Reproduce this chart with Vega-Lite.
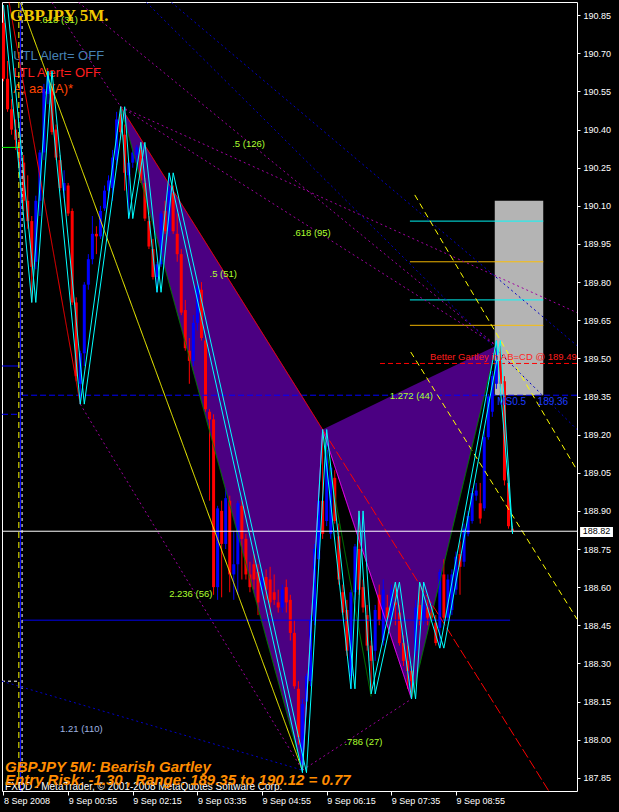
{
  "$schema": "https://vega.github.io/schema/vega-lite/v6.json",
  "width": 575,
  "height": 789,
  "autosize": "none",
  "padding": {"left": 2, "top": 2, "right": 42, "bottom": 21},
  "background": "black",
  "config": {
    "font": "Liberation Sans",
    "view": {"stroke": "#ffffff", "strokeWidth": 1},
    "axisX": {"labelAlign": "left", "labelDx": -2, "labelBaseline": "top", "labelPadding": 1,
      "labelColor": "#ffffff", "labelFontSize": 9, "tickColor": "#ffffff", "tickSize": 4,
      "domain": false, "grid": false, "labelOverlap": false, "labelFlush": false, "labelBound": false, "labelSeparation": 0},
    "axisY": {"labelColor": "#ffffff", "labelFontSize": 9, "tickColor": "#ffffff", "tickSize": 3,
      "labelPadding": 3, "domain": false, "grid": false, "labelOverlap": false, "labelFlush": false,
      "labelBound": false, "labelSeparation": 0, "labelBaseline": "middle", "labelAlign": "left"}
  },
  "resolve": {"scale": {"color": "independent", "strokeDash": "independent", "strokeWidth": "independent"}},
  "datasets": {
    "pattern": [
      {"g": 1, "t": "2008-09-09T02:00Z", "p": 190.49, "b": 190.49},
      {"g": 1, "t": "2008-09-09T05:45Z", "p": 189.35, "b": 187.88},
      {"g": 1, "t": "2008-09-09T06:10Z", "p": 189.22, "b": 189.22},
      {"g": 2, "t": "2008-09-09T06:10Z", "p": 189.22, "b": 189.22},
      {"g": 2, "t": "2008-09-09T08:00Z", "p": 189.39, "b": 188.16},
      {"g": 2, "t": "2008-09-09T09:45Z", "p": 189.55, "b": 189.55}
    ],
    "bars": [
      {"t": "2008-09-08T23:35Z", "o": 190.82, "h": 190.89, "l": 190.59, "c": 190.60},
      {"t": "2008-09-08T23:40Z", "o": 190.60, "h": 190.67, "l": 190.47, "c": 190.48},
      {"t": "2008-09-08T23:45Z", "o": 190.48, "h": 190.52, "l": 190.38, "c": 190.40},
      {"t": "2008-09-08T23:50Z", "o": 190.40, "h": 190.44, "l": 190.32, "c": 190.36},
      {"t": "2008-09-08T23:55Z", "o": 190.36, "h": 190.40, "l": 190.24, "c": 190.26},
      {"t": "2008-09-09T00:00Z", "o": 190.27, "h": 190.30, "l": 190.08, "c": 190.12},
      {"t": "2008-09-09T00:05Z", "o": 190.12, "h": 190.22, "l": 190.01, "c": 190.04},
      {"t": "2008-09-09T00:10Z", "o": 190.04, "h": 190.06, "l": 189.72, "c": 189.86},
      {"t": "2008-09-09T00:15Z", "o": 189.88, "h": 190.14, "l": 189.85, "c": 190.12},
      {"t": "2008-09-09T00:20Z", "o": 190.12, "h": 190.32, "l": 190.06, "c": 190.31},
      {"t": "2008-09-09T00:25Z", "o": 190.31, "h": 190.58, "l": 190.28, "c": 190.56},
      {"t": "2008-09-09T00:30Z", "o": 190.54, "h": 190.63, "l": 190.50, "c": 190.61},
      {"t": "2008-09-09T00:35Z", "o": 190.56, "h": 190.58, "l": 190.38, "c": 190.39},
      {"t": "2008-09-09T00:40Z", "o": 190.40, "h": 190.42, "l": 190.28, "c": 190.29},
      {"t": "2008-09-09T00:45Z", "o": 190.28, "h": 190.30, "l": 190.16, "c": 190.17},
      {"t": "2008-09-09T00:50Z", "o": 190.16, "h": 190.24, "l": 190.13, "c": 190.19},
      {"t": "2008-09-09T00:55Z", "o": 190.18, "h": 190.19, "l": 190.06, "c": 190.07},
      {"t": "2008-09-09T01:00Z", "o": 190.08, "h": 190.09, "l": 189.71, "c": 189.72},
      {"t": "2008-09-09T01:05Z", "o": 189.72, "h": 189.74, "l": 189.41, "c": 189.43},
      {"t": "2008-09-09T01:10Z", "o": 189.40, "h": 189.53, "l": 189.32, "c": 189.52},
      {"t": "2008-09-09T01:15Z", "o": 189.52, "h": 189.80, "l": 189.47, "c": 189.79},
      {"t": "2008-09-09T01:20Z", "o": 189.79, "h": 189.91, "l": 189.77, "c": 189.89},
      {"t": "2008-09-09T01:25Z", "o": 189.89, "h": 190.06, "l": 189.87, "c": 189.99},
      {"t": "2008-09-09T01:30Z", "o": 189.99, "h": 190.02, "l": 189.91, "c": 189.98},
      {"t": "2008-09-09T01:35Z", "o": 189.98, "h": 190.10, "l": 189.97, "c": 190.08},
      {"t": "2008-09-09T01:40Z", "o": 190.09, "h": 190.18, "l": 190.08, "c": 190.16},
      {"t": "2008-09-09T01:45Z", "o": 190.16, "h": 190.22, "l": 190.13, "c": 190.20},
      {"t": "2008-09-09T01:50Z", "o": 190.17, "h": 190.32, "l": 190.12, "c": 190.29},
      {"t": "2008-09-09T01:55Z", "o": 190.28, "h": 190.47, "l": 190.26, "c": 190.44},
      {"t": "2008-09-09T02:00Z", "o": 190.46, "h": 190.49, "l": 190.36, "c": 190.39},
      {"t": "2008-09-09T02:05Z", "o": 190.38, "h": 190.42, "l": 190.16, "c": 190.23},
      {"t": "2008-09-09T02:10Z", "o": 190.22, "h": 190.28, "l": 190.05, "c": 190.27},
      {"t": "2008-09-09T02:15Z", "o": 190.27, "h": 190.32, "l": 190.25, "c": 190.31},
      {"t": "2008-09-09T02:20Z", "o": 190.30, "h": 190.34, "l": 190.27, "c": 190.33},
      {"t": "2008-09-09T02:25Z", "o": 190.32, "h": 190.35, "l": 190.19, "c": 190.20},
      {"t": "2008-09-09T02:30Z", "o": 190.19, "h": 190.21, "l": 190.04, "c": 190.05},
      {"t": "2008-09-09T02:35Z", "o": 190.04, "h": 190.06, "l": 189.93, "c": 189.94},
      {"t": "2008-09-09T02:40Z", "o": 189.93, "h": 189.97, "l": 189.81, "c": 189.82},
      {"t": "2008-09-09T02:45Z", "o": 189.82, "h": 189.88, "l": 189.76, "c": 189.87},
      {"t": "2008-09-09T02:50Z", "o": 189.87, "h": 190.08, "l": 189.86, "c": 190.07},
      {"t": "2008-09-09T02:55Z", "o": 190.08, "h": 190.12, "l": 189.99, "c": 190.00},
      {"t": "2008-09-09T03:00Z", "o": 190.00, "h": 190.23, "l": 189.98, "c": 190.16},
      {"t": "2008-09-09T03:05Z", "o": 190.15, "h": 190.18, "l": 189.99, "c": 190.00},
      {"t": "2008-09-09T03:10Z", "o": 189.99, "h": 190.07, "l": 189.88, "c": 189.91},
      {"t": "2008-09-09T03:15Z", "o": 189.91, "h": 189.93, "l": 189.67, "c": 189.68},
      {"t": "2008-09-09T03:20Z", "o": 189.69, "h": 189.73, "l": 189.53, "c": 189.54},
      {"t": "2008-09-09T03:25Z", "o": 189.53, "h": 189.58, "l": 189.40, "c": 189.49},
      {"t": "2008-09-09T03:30Z", "o": 189.49, "h": 189.67, "l": 189.47, "c": 189.64},
      {"t": "2008-09-09T03:35Z", "o": 189.64, "h": 189.80, "l": 189.61, "c": 189.78},
      {"t": "2008-09-09T03:40Z", "o": 189.77, "h": 189.80, "l": 189.57, "c": 189.58},
      {"t": "2008-09-09T03:45Z", "o": 189.57, "h": 189.59, "l": 189.29, "c": 189.30},
      {"t": "2008-09-09T03:50Z", "o": 189.29, "h": 189.30, "l": 188.94, "c": 189.26},
      {"t": "2008-09-09T03:55Z", "o": 189.26, "h": 189.28, "l": 188.57, "c": 188.60},
      {"t": "2008-09-09T04:00Z", "o": 188.60, "h": 188.92, "l": 188.55, "c": 188.91},
      {"t": "2008-09-09T04:05Z", "o": 188.90, "h": 188.94, "l": 188.56, "c": 188.77},
      {"t": "2008-09-09T04:10Z", "o": 188.77, "h": 188.99, "l": 188.75, "c": 188.95},
      {"t": "2008-09-09T04:15Z", "o": 188.94, "h": 188.96, "l": 188.58, "c": 188.65},
      {"t": "2008-09-09T04:20Z", "o": 188.65, "h": 188.82, "l": 188.55, "c": 188.69},
      {"t": "2008-09-09T04:25Z", "o": 188.69, "h": 188.94, "l": 188.57, "c": 188.93},
      {"t": "2008-09-09T04:30Z", "o": 188.92, "h": 188.94, "l": 188.63, "c": 188.79},
      {"t": "2008-09-09T04:35Z", "o": 188.79, "h": 188.81, "l": 188.63, "c": 188.65},
      {"t": "2008-09-09T04:40Z", "o": 188.65, "h": 188.70, "l": 188.58, "c": 188.60},
      {"t": "2008-09-09T04:45Z", "o": 188.69, "h": 188.73, "l": 188.59, "c": 188.63},
      {"t": "2008-09-09T04:50Z", "o": 188.66, "h": 188.69, "l": 188.49, "c": 188.54},
      {"t": "2008-09-09T04:55Z", "o": 188.59, "h": 188.67, "l": 188.57, "c": 188.64},
      {"t": "2008-09-09T05:00Z", "o": 188.64, "h": 188.67, "l": 188.55, "c": 188.59},
      {"t": "2008-09-09T05:05Z", "o": 188.63, "h": 188.68, "l": 188.49, "c": 188.54},
      {"t": "2008-09-09T05:10Z", "o": 188.58, "h": 188.65, "l": 188.53, "c": 188.55},
      {"t": "2008-09-09T05:15Z", "o": 188.54, "h": 188.59, "l": 188.50, "c": 188.52},
      {"t": "2008-09-09T05:20Z", "o": 188.52, "h": 188.61, "l": 188.50, "c": 188.59},
      {"t": "2008-09-09T05:25Z", "o": 188.60, "h": 188.63, "l": 188.50, "c": 188.54},
      {"t": "2008-09-09T05:30Z", "o": 188.55, "h": 188.57, "l": 188.39, "c": 188.42},
      {"t": "2008-09-09T05:35Z", "o": 188.42, "h": 188.47, "l": 188.20, "c": 188.21},
      {"t": "2008-09-09T05:40Z", "o": 188.20, "h": 188.23, "l": 187.98, "c": 188.01},
      {"t": "2008-09-09T05:45Z", "o": 187.90, "h": 188.16, "l": 187.87, "c": 188.14},
      {"t": "2008-09-09T05:50Z", "o": 188.15, "h": 188.26, "l": 188.12, "c": 188.25},
      {"t": "2008-09-09T05:55Z", "o": 188.23, "h": 188.49, "l": 188.21, "c": 188.47},
      {"t": "2008-09-09T06:00Z", "o": 188.47, "h": 188.77, "l": 188.45, "c": 188.75},
      {"t": "2008-09-09T06:05Z", "o": 188.71, "h": 188.96, "l": 188.67, "c": 188.94},
      {"t": "2008-09-09T06:10Z", "o": 188.94, "h": 189.22, "l": 188.79, "c": 188.81},
      {"t": "2008-09-09T06:15Z", "o": 188.86, "h": 189.18, "l": 188.84, "c": 189.14},
      {"t": "2008-09-09T06:20Z", "o": 188.81, "h": 189.08, "l": 188.79, "c": 189.07},
      {"t": "2008-09-09T06:25Z", "o": 189.03, "h": 189.06, "l": 188.85, "c": 188.86},
      {"t": "2008-09-09T06:30Z", "o": 188.80, "h": 188.85, "l": 188.61, "c": 188.63},
      {"t": "2008-09-09T06:35Z", "o": 188.58, "h": 188.61, "l": 188.49, "c": 188.50},
      {"t": "2008-09-09T06:40Z", "o": 188.51, "h": 188.55, "l": 188.33, "c": 188.35},
      {"t": "2008-09-09T06:45Z", "o": 188.25, "h": 188.59, "l": 188.20, "c": 188.58},
      {"t": "2008-09-09T06:50Z", "o": 188.58, "h": 188.77, "l": 188.55, "c": 188.76},
      {"t": "2008-09-09T06:55Z", "o": 188.75, "h": 188.90, "l": 188.57, "c": 188.59},
      {"t": "2008-09-09T07:00Z", "o": 188.60, "h": 188.63, "l": 188.50, "c": 188.52},
      {"t": "2008-09-09T07:05Z", "o": 188.49, "h": 188.53, "l": 188.35, "c": 188.37},
      {"t": "2008-09-09T07:10Z", "o": 188.37, "h": 188.39, "l": 188.18, "c": 188.31},
      {"t": "2008-09-09T07:15Z", "o": 188.35, "h": 188.53, "l": 188.31, "c": 188.51},
      {"t": "2008-09-09T07:20Z", "o": 188.57, "h": 188.61, "l": 188.45, "c": 188.47},
      {"t": "2008-09-09T07:25Z", "o": 188.39, "h": 188.63, "l": 188.37, "c": 188.59},
      {"t": "2008-09-09T07:30Z", "o": 188.52, "h": 188.57, "l": 188.47, "c": 188.48},
      {"t": "2008-09-09T07:35Z", "o": 188.48, "h": 188.61, "l": 188.46, "c": 188.59},
      {"t": "2008-09-09T07:40Z", "o": 188.54, "h": 188.62, "l": 188.45, "c": 188.53},
      {"t": "2008-09-09T07:45Z", "o": 188.50, "h": 188.53, "l": 188.37, "c": 188.38},
      {"t": "2008-09-09T07:50Z", "o": 188.38, "h": 188.41, "l": 188.29, "c": 188.31},
      {"t": "2008-09-09T07:55Z", "o": 188.31, "h": 188.37, "l": 188.20, "c": 188.27},
      {"t": "2008-09-09T08:00Z", "o": 188.27, "h": 188.29, "l": 188.16, "c": 188.23},
      {"t": "2008-09-09T08:05Z", "o": 188.35, "h": 188.55, "l": 188.33, "c": 188.52},
      {"t": "2008-09-09T08:10Z", "o": 188.53, "h": 188.62, "l": 188.45, "c": 188.47},
      {"t": "2008-09-09T08:15Z", "o": 188.47, "h": 188.55, "l": 188.45, "c": 188.53},
      {"t": "2008-09-09T08:20Z", "o": 188.52, "h": 188.55, "l": 188.45, "c": 188.48},
      {"t": "2008-09-09T08:25Z", "o": 188.50, "h": 188.53, "l": 188.47, "c": 188.48},
      {"t": "2008-09-09T08:30Z", "o": 188.46, "h": 188.49, "l": 188.37, "c": 188.38},
      {"t": "2008-09-09T08:35Z", "o": 188.44, "h": 188.67, "l": 188.36, "c": 188.66},
      {"t": "2008-09-09T08:40Z", "o": 188.65, "h": 188.71, "l": 188.47, "c": 188.48},
      {"t": "2008-09-09T08:45Z", "o": 188.48, "h": 188.65, "l": 188.47, "c": 188.63},
      {"t": "2008-09-09T08:50Z", "o": 188.51, "h": 188.67, "l": 188.49, "c": 188.65},
      {"t": "2008-09-09T08:55Z", "o": 188.59, "h": 188.74, "l": 188.57, "c": 188.72},
      {"t": "2008-09-09T09:00Z", "o": 188.73, "h": 188.78, "l": 188.57, "c": 188.68},
      {"t": "2008-09-09T09:05Z", "o": 188.70, "h": 188.85, "l": 188.68, "c": 188.83},
      {"t": "2008-09-09T09:10Z", "o": 188.81, "h": 188.90, "l": 188.80, "c": 188.88},
      {"t": "2008-09-09T09:15Z", "o": 188.86, "h": 188.99, "l": 188.85, "c": 188.97},
      {"t": "2008-09-09T09:20Z", "o": 188.96, "h": 189.01, "l": 188.94, "c": 188.98},
      {"t": "2008-09-09T09:25Z", "o": 188.93, "h": 189.01, "l": 188.85, "c": 188.87},
      {"t": "2008-09-09T09:30Z", "o": 188.91, "h": 189.22, "l": 188.90, "c": 189.19},
      {"t": "2008-09-09T09:35Z", "o": 189.19, "h": 189.36, "l": 189.18, "c": 189.35},
      {"t": "2008-09-09T09:40Z", "o": 189.29, "h": 189.45, "l": 189.27, "c": 189.43},
      {"t": "2008-09-09T09:45Z", "o": 189.40, "h": 189.57, "l": 189.38, "c": 189.49},
      {"t": "2008-09-09T09:50Z", "o": 189.49, "h": 189.55, "l": 189.36, "c": 189.40},
      {"t": "2008-09-09T09:55Z", "o": 189.41, "h": 189.43, "l": 189.00, "c": 189.02},
      {"t": "2008-09-09T10:00Z", "o": 189.01, "h": 189.06, "l": 188.83, "c": 188.84},
      {"t": "2008-09-09T10:05Z", "o": 188.83, "h": 188.84, "l": 188.81, "c": 188.82}
    ],
    "zz": [
      {"z": 1, "t": "2008-09-08T23:35Z", "p": 190.89},
      {"z": 1, "t": "2008-09-09T00:10Z", "p": 189.72},
      {"z": 1, "t": "2008-09-09T00:30Z", "p": 190.63},
      {"z": 1, "t": "2008-09-09T01:10Z", "p": 189.32},
      {"z": 1, "t": "2008-09-09T02:00Z", "p": 190.49},
      {"z": 1, "t": "2008-09-09T02:10Z", "p": 190.05},
      {"z": 1, "t": "2008-09-09T02:25Z", "p": 190.35},
      {"z": 1, "t": "2008-09-09T02:45Z", "p": 189.76},
      {"z": 1, "t": "2008-09-09T03:00Z", "p": 190.23},
      {"z": 1, "t": "2008-09-09T05:45Z", "p": 187.87},
      {"z": 1, "t": "2008-09-09T06:10Z", "p": 189.22},
      {"z": 1, "t": "2008-09-09T06:45Z", "p": 188.20},
      {"z": 1, "t": "2008-09-09T06:55Z", "p": 188.90},
      {"z": 1, "t": "2008-09-09T07:10Z", "p": 188.18},
      {"z": 1, "t": "2008-09-09T07:40Z", "p": 188.62},
      {"z": 1, "t": "2008-09-09T08:00Z", "p": 188.16},
      {"z": 1, "t": "2008-09-09T08:10Z", "p": 188.62},
      {"z": 1, "t": "2008-09-09T08:35Z", "p": 188.36},
      {"z": 1, "t": "2008-09-09T09:45Z", "p": 189.57},
      {"z": 1, "t": "2008-09-09T10:05Z", "p": 188.81},
      {"z": 2, "t": "2008-09-08T23:40Z", "p": 190.89},
      {"z": 2, "t": "2008-09-09T00:15Z", "p": 189.72},
      {"z": 2, "t": "2008-09-09T00:35Z", "p": 190.63},
      {"z": 2, "t": "2008-09-09T01:15Z", "p": 189.32},
      {"z": 2, "t": "2008-09-09T02:05Z", "p": 190.49},
      {"z": 2, "t": "2008-09-09T02:15Z", "p": 190.05},
      {"z": 2, "t": "2008-09-09T02:30Z", "p": 190.35},
      {"z": 2, "t": "2008-09-09T02:50Z", "p": 189.76},
      {"z": 2, "t": "2008-09-09T03:05Z", "p": 190.23},
      {"z": 2, "t": "2008-09-09T05:50Z", "p": 187.87},
      {"z": 2, "t": "2008-09-09T06:15Z", "p": 189.22},
      {"z": 2, "t": "2008-09-09T06:50Z", "p": 188.20},
      {"z": 2, "t": "2008-09-09T07:00Z", "p": 188.90},
      {"z": 2, "t": "2008-09-09T07:15Z", "p": 188.18},
      {"z": 2, "t": "2008-09-09T07:45Z", "p": 188.62},
      {"z": 2, "t": "2008-09-09T08:05Z", "p": 188.16},
      {"z": 2, "t": "2008-09-09T08:15Z", "p": 188.62},
      {"z": 2, "t": "2008-09-09T08:40Z", "p": 188.36},
      {"z": 2, "t": "2008-09-09T09:50Z", "p": 189.57},
      {"z": 2, "t": "2008-09-09T10:05Z", "p": 188.81}
    ],
    "segs": [
      {"k": "blueDash", "t": "2008-09-08T23:58Z", "p": 189.355, "t2": "2008-09-09T11:24:47Z", "p2": 189.355},
      {"k": "blue", "t": "2008-09-08T23:58Z", "p": 188.47, "t2": "2008-09-09T10:02Z", "p2": 188.47},
      {"k": "redH", "t": "2008-09-09T07:21Z", "p": 189.48, "t2": "2008-09-09T11:24:47Z", "p2": 189.48},
      {"k": "cyan", "t": "2008-09-09T07:58Z", "p": 190.04, "t2": "2008-09-09T10:43Z", "p2": 190.04},
      {"k": "cyan", "t": "2008-09-09T07:58Z", "p": 189.73, "t2": "2008-09-09T10:43Z", "p2": 189.73},
      {"k": "gold", "t": "2008-09-09T07:58Z", "p": 189.88, "t2": "2008-09-09T10:43Z", "p2": 189.88},
      {"k": "gold", "t": "2008-09-09T07:58Z", "p": 189.63, "t2": "2008-09-09T10:43Z", "p2": 189.63},
      {"k": "lime", "t": "2008-09-08T23:33:09Z", "p": 190.33, "t2": "2008-09-08T23:56Z", "p2": 190.33},
      {"k": "blueThin", "t": "2008-09-08T23:33:09Z", "p": 189.47, "t2": "2008-09-08T23:56Z", "p2": 189.47},
      {"k": "blueDash", "t": "2008-09-08T23:33:09Z", "p": 189.28, "t2": "2008-09-08T23:55Z", "p2": 189.28},
      {"k": "whiteDash", "t": "2008-09-08T23:33:09Z", "p": 188.23, "t2": "2008-09-08T23:56Z", "p2": 188.23},
      {"k": "yellowDash", "t": "2008-09-08T23:54Z", "p": 190.902, "t2": "2008-09-08T23:54Z", "p2": 187.798},
      {"k": "blueThin", "t": "2008-09-08T23:56Z", "p": 190.902, "t2": "2008-09-08T23:56Z", "p2": 187.798},
      {"k": "whiteDash", "t": "2008-09-08T23:58Z", "p": 190.902, "t2": "2008-09-08T23:58Z", "p2": 187.798},
      {"k": "purpleDot", "t": "2008-09-09T00:35Z", "p": 190.90, "t2": "2008-09-09T02:00Z", "p2": 190.49},
      {"k": "purpleDot", "t": "2008-09-09T01:08Z", "p": 190.90, "t2": "2008-09-09T09:45Z", "p2": 189.55},
      {"k": "purpleDot", "t": "2008-09-09T02:00Z", "p": 190.49, "t2": "2008-09-09T09:45Z", "p2": 189.55},
      {"k": "purpleDot", "t": "2008-09-09T02:00Z", "p": 190.49, "t2": "2008-09-09T11:24:47Z", "p2": 189.68},
      {"k": "purpleDot", "t": "2008-09-09T01:10Z", "p": 189.32, "t2": "2008-09-09T05:45Z", "p2": 187.88},
      {"k": "purpleDot", "t": "2008-09-09T05:45Z", "p": 187.88, "t2": "2008-09-09T08:00Z", "p2": 188.16},
      {"k": "blueDot", "t": "2008-09-08T23:33:09Z", "p": 188.23, "t2": "2008-09-09T05:45Z", "p2": 187.88},
      {"k": "blueDot", "t": "2008-09-09T02:32Z", "p": 190.90, "t2": "2008-09-09T11:24:47Z", "p2": 189.22},
      {"k": "blueDot", "t": "2008-09-09T03:03Z", "p": 190.90, "t2": "2008-09-09T11:24:47Z", "p2": 189.55},
      {"k": "yellow", "t": "2008-09-08T23:56Z", "p": 190.90, "t2": "2008-09-09T05:45Z", "p2": 187.88},
      {"k": "red", "t": "2008-09-08T23:42Z", "p": 190.90, "t2": "2008-09-09T01:10Z", "p2": 189.32},
      {"k": "yellowDash", "t": "2008-09-09T07:59Z", "p": 189.525, "t2": "2008-09-09T11:24:47Z", "p2": 188.474},
      {"k": "yellowDash", "t": "2008-09-09T08:04Z", "p": 190.143, "t2": "2008-09-09T11:24:47Z", "p2": 189.06},
      {"k": "green", "t": "2008-09-09T02:00Z", "p": 190.49, "t2": "2008-09-09T05:45Z", "p2": 187.88},
      {"k": "green", "t": "2008-09-09T06:10Z", "p": 189.22, "t2": "2008-09-09T07:10Z", "p2": 188.17},
      {"k": "green", "t": "2008-09-09T08:00Z", "p": 188.16, "t2": "2008-09-09T09:45Z", "p2": 189.55},
      {"k": "magentaThin", "t": "2008-09-09T05:45Z", "p": 187.88, "t2": "2008-09-09T06:10Z", "p2": 189.22},
      {"k": "magenta", "t": "2008-09-09T06:10Z", "p": 189.22, "t2": "2008-09-09T08:00Z", "p2": 188.16},
      {"k": "red", "t": "2008-09-09T02:00Z", "p": 190.49, "t2": "2008-09-09T06:10Z", "p2": 189.22},
      {"k": "redDash", "t": "2008-09-09T06:10Z", "p": 189.22, "t2": "2008-09-09T10:49:30Z", "p2": 187.80},
      {"k": "white", "t": "2008-09-08T23:33:09Z", "p": 188.82, "t2": "2008-09-09T11:24:47Z", "p2": 188.82}
    ]
  },
  "layer": [
    {
      "data": {"name": "pattern"},
      "mark": {"type": "area", "color": "#4b0082", "opacity": 1},
      "encoding": {
        "x": {"field": "t", "type": "temporal", "title": null,
          "scale": {"type": "utc", "padding": 0, "domain": [{"year": 2008, "month": 9, "date": 8, "hours": 23, "minutes": 33, "seconds": 9, "utc": true}, {"year": 2008, "month": 9, "date": 9, "hours": 11, "minutes": 24, "seconds": 47, "utc": true}]},
          "axis": {"title": null, "orient": "bottom",
            "values": [
              {"year": 2008, "month": 9, "date": 8, "hours": 23, "minutes": 35, "utc": true},
              {"year": 2008, "month": 9, "date": 9, "hours": 0, "minutes": 55, "utc": true},
              {"year": 2008, "month": 9, "date": 9, "hours": 2, "minutes": 15, "utc": true},
              {"year": 2008, "month": 9, "date": 9, "hours": 3, "minutes": 35, "utc": true},
              {"year": 2008, "month": 9, "date": 9, "hours": 4, "minutes": 55, "utc": true},
              {"year": 2008, "month": 9, "date": 9, "hours": 6, "minutes": 15, "utc": true},
              {"year": 2008, "month": 9, "date": 9, "hours": 7, "minutes": 35, "utc": true},
              {"year": 2008, "month": 9, "date": 9, "hours": 8, "minutes": 55, "utc": true}
            ],
            "labelExpr": "datum.index == 0 ? '8 Sep 2008' : utcFormat(datum.value, '%-d %b %H:%M')",
            "labelOverlap": false}},
        "y": {"field": "p", "type": "quantitative", "title": null,
          "scale": {"domain": [187.798, 190.902], "nice": false, "zero": false, "padding": 0},
          "axis": {"title": null, "orient": "right",
            "values": [187.85, 188.0, 188.15, 188.3, 188.45, 188.6, 188.75, 188.9, 189.05, 189.2, 189.35, 189.5, 189.65, 189.8, 189.95, 190.1, 190.25, 190.4, 190.55, 190.7, 190.85],
            "format": ".2f", "labelOverlap": false, "tickCount": 21}},
        "y2": {"field": "b"},
        "detail": {"field": "g"}
      }
    },
    {
      "data": {"values": [{"t": "2008-09-09T09:43Z", "t2": "2008-09-09T10:43Z", "p": 189.355, "p2": 190.12}]},
      "mark": {"type": "rect", "color": "#b4b4b4"},
      "encoding": {
        "x": {"field": "t", "type": "temporal", "title": null, "scale": {"type": "utc", "padding": 0, "domain": [{"year": 2008, "month": 9, "date": 8, "hours": 23, "minutes": 33, "seconds": 9, "utc": true}, {"year": 2008, "month": 9, "date": 9, "hours": 11, "minutes": 24, "seconds": 47, "utc": true}]}},
        "x2": {"field": "t2"},
        "y": {"field": "p", "type": "quantitative", "title": null, "scale": {"domain": [187.798, 190.902], "nice": false, "zero": false, "padding": 0}},
        "y2": {"field": "p2"}
      }
    },
    {
      "data": {"values": [{"t": "2008-09-08T23:47Z", "p": 190.674, "s": "UTL Alert= OFF"}]},
      "mark": {"type": "text", "align": "left", "baseline": "alphabetic", "fontSize": 13, "font": "Liberation Sans", "color": "#4682b4"},
      "encoding": {
        "x": {"field": "t", "type": "temporal", "title": null, "scale": {"type": "utc", "padding": 0, "domain": [{"year": 2008, "month": 9, "date": 8, "hours": 23, "minutes": 33, "seconds": 9, "utc": true}, {"year": 2008, "month": 9, "date": 9, "hours": 11, "minutes": 24, "seconds": 47, "utc": true}]}},
        "y": {"field": "p", "type": "quantitative", "title": null, "scale": {"domain": [187.798, 190.902], "nice": false, "zero": false, "padding": 0}},
        "text": {"field": "s"}
      }
    },
    {
      "data": {"values": [{"t": "2008-09-08T23:47Z", "p": 190.607, "s": "LTL Alert= OFF"}]},
      "mark": {"type": "text", "align": "left", "baseline": "alphabetic", "fontSize": 13, "font": "Liberation Sans", "color": "#ff1e1e"},
      "encoding": {
        "x": {"field": "t", "type": "temporal", "title": null, "scale": {"type": "utc", "padding": 0, "domain": [{"year": 2008, "month": 9, "date": 8, "hours": 23, "minutes": 33, "seconds": 9, "utc": true}, {"year": 2008, "month": 9, "date": 9, "hours": 11, "minutes": 24, "seconds": 47, "utc": true}]}},
        "y": {"field": "p", "type": "quantitative", "title": null, "scale": {"domain": [187.798, 190.902], "nice": false, "zero": false, "padding": 0}},
        "text": {"field": "s"}
      }
    },
    {
      "data": {"values": [{"t": "2008-09-08T23:47Z", "p": 190.544, "s": "A,  aa,   (A)*"}]},
      "mark": {"type": "text", "align": "left", "baseline": "alphabetic", "fontSize": 13, "font": "Liberation Sans", "color": "#ff4500"},
      "encoding": {
        "x": {"field": "t", "type": "temporal", "title": null, "scale": {"type": "utc", "padding": 0, "domain": [{"year": 2008, "month": 9, "date": 8, "hours": 23, "minutes": 33, "seconds": 9, "utc": true}, {"year": 2008, "month": 9, "date": 9, "hours": 11, "minutes": 24, "seconds": 47, "utc": true}]}},
        "y": {"field": "p", "type": "quantitative", "title": null, "scale": {"domain": [187.798, 190.902], "nice": false, "zero": false, "padding": 0}},
        "text": {"field": "s"}
      }
    },
    {
      "data": {"name": "bars"},
      "mark": {"type": "rule", "strokeWidth": 1},
      "encoding": {
        "x": {"field": "t", "type": "temporal", "title": null, "scale": {"type": "utc", "padding": 0, "domain": [{"year": 2008, "month": 9, "date": 8, "hours": 23, "minutes": 33, "seconds": 9, "utc": true}, {"year": 2008, "month": 9, "date": 9, "hours": 11, "minutes": 24, "seconds": 47, "utc": true}]}},
        "y": {"field": "l", "type": "quantitative", "title": null, "scale": {"domain": [187.798, 190.902], "nice": false, "zero": false, "padding": 0}},
        "y2": {"field": "h"},
        "color": {"condition": {"test": "datum.c >= datum.o", "value": "#0000ff"}, "value": "#ff0000"}
      }
    },
    {
      "data": {"name": "bars"},
      "mark": {"type": "bar", "size": 3},
      "encoding": {
        "x": {"field": "t", "type": "temporal", "title": null, "scale": {"type": "utc", "padding": 0, "domain": [{"year": 2008, "month": 9, "date": 8, "hours": 23, "minutes": 33, "seconds": 9, "utc": true}, {"year": 2008, "month": 9, "date": 9, "hours": 11, "minutes": 24, "seconds": 47, "utc": true}]}},
        "y": {"field": "o", "type": "quantitative", "title": null, "scale": {"domain": [187.798, 190.902], "nice": false, "zero": false, "padding": 0}},
        "y2": {"field": "c"},
        "color": {"condition": {"test": "datum.c >= datum.o", "value": "#0000ff"}, "value": "#ff0000"}
      }
    },
    {
      "data": {"name": "segs"},
      "mark": {"type": "rule"},
      "encoding": {
        "x": {"field": "t", "type": "temporal", "title": null, "scale": {"type": "utc", "padding": 0, "domain": [{"year": 2008, "month": 9, "date": 8, "hours": 23, "minutes": 33, "seconds": 9, "utc": true}, {"year": 2008, "month": 9, "date": 9, "hours": 11, "minutes": 24, "seconds": 47, "utc": true}]}},
        "x2": {"field": "t2"},
        "y": {"field": "p", "type": "quantitative", "title": null, "scale": {"domain": [187.798, 190.902], "nice": false, "zero": false, "padding": 0}},
        "y2": {"field": "p2"},
        "color": {"field": "k", "type": "nominal", "legend": null, "scale": {
          "domain": ["white", "blueDash", "blue", "blueThin", "redH", "cyan", "gold", "lime", "whiteDash", "yellowDash", "purpleDot", "blueDot", "yellow", "red", "green", "magenta", "magentaThin", "redDash"],
          "range": ["#ffffff", "#0000ff", "#0000ff", "#0000ff", "#ff0000", "#00ffff", "#ffbf00", "#00ff00", "#ffffff", "#ffff00", "#a000a0", "#0000c8", "#ffff00", "#ff0000", "#008000", "#ff00ff", "#ff00ff", "#ff0000"]}},
        "strokeDash": {"field": "k", "type": "nominal", "legend": null, "scale": {
          "domain": ["white", "blueDash", "blue", "blueThin", "redH", "cyan", "gold", "lime", "whiteDash", "yellowDash", "purpleDot", "blueDot", "yellow", "red", "green", "magenta", "magentaThin", "redDash"],
          "range": [[1, 0], [6, 3], [1, 0], [1, 0], [5, 3], [1, 0], [1, 0], [1, 0], [3, 3], [6, 4], [2, 3], [2, 3], [1, 0], [1, 0], [1, 0], [1, 0], [1, 0], [10, 3]]}},
        "strokeWidth": {"field": "k", "type": "ordinal", "legend": null, "scale": {
          "domain": ["white", "blueDash", "blue", "blueThin", "redH", "cyan", "gold", "lime", "whiteDash", "yellowDash", "purpleDot", "blueDot", "yellow", "red", "green", "magenta", "magentaThin", "redDash"],
          "range": [1, 1, 2, 1, 1, 1, 1, 1, 1, 1, 1, 1, 1, 1, 1, 2.5, 1, 1]}}
      }
    },
    {
      "data": {"name": "zz"},
      "mark": {"type": "line", "color": "#00ffff", "strokeWidth": 1},
      "encoding": {
        "x": {"field": "t", "type": "temporal", "title": null, "scale": {"type": "utc", "padding": 0, "domain": [{"year": 2008, "month": 9, "date": 8, "hours": 23, "minutes": 33, "seconds": 9, "utc": true}, {"year": 2008, "month": 9, "date": 9, "hours": 11, "minutes": 24, "seconds": 47, "utc": true}]}},
        "y": {"field": "p", "type": "quantitative", "title": null, "scale": {"domain": [187.798, 190.902], "nice": false, "zero": false, "padding": 0}},
        "detail": {"field": "z"}
      }
    },
    {
      "data": {"values": [
        {"t": "2008-09-09T00:20Z", "p": 190.82, "s": ".618 (31)"},
        {"t": "2008-09-09T04:18Z", "p": 190.33, "s": ".5 (126)"},
        {"t": "2008-09-09T05:33Z", "p": 189.98, "s": ".618 (95)"},
        {"t": "2008-09-09T03:50Z", "p": 189.82, "s": ".5 (51)"},
        {"t": "2008-09-09T07:33Z", "p": 189.34, "s": "1.272 (44)"},
        {"t": "2008-09-09T03:00Z", "p": 188.56, "s": "2.236 (56)"},
        {"t": "2008-09-09T06:37Z", "p": 187.98, "s": ".786 (27)"}
      ]},
      "mark": {"type": "text", "align": "left", "baseline": "alphabetic", "fontSize": 9.5, "font": "Liberation Sans", "color": "#adff2f"},
      "encoding": {
        "x": {"field": "t", "type": "temporal", "title": null, "scale": {"type": "utc", "padding": 0, "domain": [{"year": 2008, "month": 9, "date": 8, "hours": 23, "minutes": 33, "seconds": 9, "utc": true}, {"year": 2008, "month": 9, "date": 9, "hours": 11, "minutes": 24, "seconds": 47, "utc": true}]}},
        "y": {"field": "p", "type": "quantitative", "title": null, "scale": {"domain": [187.798, 190.902], "nice": false, "zero": false, "padding": 0}},
        "text": {"field": "s"}
      }
    },
    {
      "data": {"values": [{"t": "2008-09-09T00:45Z", "p": 188.03, "s": "1.21 (110)"}]},
      "mark": {"type": "text", "align": "left", "baseline": "alphabetic", "fontSize": 9.5, "font": "Liberation Sans", "color": "#9fb4e0"},
      "encoding": {
        "x": {"field": "t", "type": "temporal", "title": null, "scale": {"type": "utc", "padding": 0, "domain": [{"year": 2008, "month": 9, "date": 8, "hours": 23, "minutes": 33, "seconds": 9, "utc": true}, {"year": 2008, "month": 9, "date": 9, "hours": 11, "minutes": 24, "seconds": 47, "utc": true}]}},
        "y": {"field": "p", "type": "quantitative", "title": null, "scale": {"domain": [187.798, 190.902], "nice": false, "zero": false, "padding": 0}},
        "text": {"field": "s"}
      }
    },
    {
      "data": {"values": [{"t": "2008-09-09T08:23Z", "p": 189.495, "s": "Better Gartley in AB=CD @ 189.49"}]},
      "mark": {"type": "text", "align": "left", "baseline": "alphabetic", "fontSize": 9.5, "font": "Liberation Sans", "color": "#ff1e1e"},
      "encoding": {
        "x": {"field": "t", "type": "temporal", "title": null, "scale": {"type": "utc", "padding": 0, "domain": [{"year": 2008, "month": 9, "date": 8, "hours": 23, "minutes": 33, "seconds": 9, "utc": true}, {"year": 2008, "month": 9, "date": 9, "hours": 11, "minutes": 24, "seconds": 47, "utc": true}]}},
        "y": {"field": "p", "type": "quantitative", "title": null, "scale": {"domain": [187.798, 190.902], "nice": false, "zero": false, "padding": 0}},
        "text": {"field": "s"}
      }
    },
    {
      "data": {"values": [
        {"t": "2008-09-09T09:46Z", "p": 189.315, "s": "MS0.5"},
        {"t": "2008-09-09T10:36Z", "p": 189.315, "s": "189.36"}
      ]},
      "mark": {"type": "text", "align": "left", "baseline": "alphabetic", "fontSize": 10, "font": "Liberation Sans", "color": "#1e3cff"},
      "encoding": {
        "x": {"field": "t", "type": "temporal", "title": null, "scale": {"type": "utc", "padding": 0, "domain": [{"year": 2008, "month": 9, "date": 8, "hours": 23, "minutes": 33, "seconds": 9, "utc": true}, {"year": 2008, "month": 9, "date": 9, "hours": 11, "minutes": 24, "seconds": 47, "utc": true}]}},
        "y": {"field": "p", "type": "quantitative", "title": null, "scale": {"domain": [187.798, 190.902], "nice": false, "zero": false, "padding": 0}},
        "text": {"field": "s"}
      }
    },
    {
      "data": {"values": [{"t": "2008-09-08T23:43Z", "p": 190.829, "s": "GBPJPY 5M."}]},
      "mark": {"type": "text", "align": "left", "baseline": "alphabetic", "fontSize": 17, "font": "Liberation Serif", "fontWeight": "bold", "color": "#f0c800"},
      "encoding": {
        "x": {"field": "t", "type": "temporal", "title": null, "scale": {"type": "utc", "padding": 0, "domain": [{"year": 2008, "month": 9, "date": 8, "hours": 23, "minutes": 33, "seconds": 9, "utc": true}, {"year": 2008, "month": 9, "date": 9, "hours": 11, "minutes": 24, "seconds": 47, "utc": true}]}},
        "y": {"field": "p", "type": "quantitative", "title": null, "scale": {"domain": [187.798, 190.902], "nice": false, "zero": false, "padding": 0}},
        "text": {"field": "s"}
      }
    },
    {
      "data": {"values": [{"t": "2008-09-08T23:37Z", "p": 187.801, "s": "FXDD - MetaTrader, © 2001-2008 MetaQuotes Software Corp."}]},
      "mark": {"type": "text", "align": "left", "baseline": "alphabetic", "fontSize": 10, "font": "Liberation Sans", "color": "#ffffff"},
      "encoding": {
        "x": {"field": "t", "type": "temporal", "title": null, "scale": {"type": "utc", "padding": 0, "domain": [{"year": 2008, "month": 9, "date": 8, "hours": 23, "minutes": 33, "seconds": 9, "utc": true}, {"year": 2008, "month": 9, "date": 9, "hours": 11, "minutes": 24, "seconds": 47, "utc": true}]}},
        "y": {"field": "p", "type": "quantitative", "title": null, "scale": {"domain": [187.798, 190.902], "nice": false, "zero": false, "padding": 0}},
        "text": {"field": "s"}
      }
    },
    {
      "data": {"values": [
        {"t": "2008-09-08T23:37Z", "p": 187.874, "s": "GBPJPY 5M: Bearish Gartley"},
        {"t": "2008-09-08T23:37Z", "p": 187.823, "s": "Entry Risk: -1.30 , Range: 189.35 to 190.12 = 0.77"}
      ]},
      "mark": {"type": "text", "align": "left", "baseline": "alphabetic", "fontSize": 15, "font": "Liberation Sans", "fontWeight": "bold", "fontStyle": "italic", "color": "#ff8c00"},
      "encoding": {
        "x": {"field": "t", "type": "temporal", "title": null, "scale": {"type": "utc", "padding": 0, "domain": [{"year": 2008, "month": 9, "date": 8, "hours": 23, "minutes": 33, "seconds": 9, "utc": true}, {"year": 2008, "month": 9, "date": 9, "hours": 11, "minutes": 24, "seconds": 47, "utc": true}]}},
        "y": {"field": "p", "type": "quantitative", "title": null, "scale": {"domain": [187.798, 190.902], "nice": false, "zero": false, "padding": 0}},
        "text": {"field": "s"}
      }
    },
    {
      "data": {"values": [{"t": "2008-09-09T11:28:36Z", "t2": "2008-09-09T12:09:18Z", "p": 188.837, "p2": 188.797}]},
      "mark": {"type": "rect", "color": "#ffffff"},
      "encoding": {
        "x": {"field": "t", "type": "temporal", "title": null, "scale": {"type": "utc", "padding": 0, "domain": [{"year": 2008, "month": 9, "date": 8, "hours": 23, "minutes": 33, "seconds": 9, "utc": true}, {"year": 2008, "month": 9, "date": 9, "hours": 11, "minutes": 24, "seconds": 47, "utc": true}]}},
        "x2": {"field": "t2"},
        "y": {"field": "p", "type": "quantitative", "title": null, "scale": {"domain": [187.798, 190.902], "nice": false, "zero": false, "padding": 0}},
        "y2": {"field": "p2"}
      }
    },
    {
      "data": {"values": [{"t": "2008-09-09T11:49Z", "p": 188.82, "s": "188.82"}]},
      "mark": {"type": "text", "align": "center", "baseline": "middle", "fontSize": 9, "font": "Liberation Sans", "color": "#000000"},
      "encoding": {
        "x": {"field": "t", "type": "temporal", "title": null, "scale": {"type": "utc", "padding": 0, "domain": [{"year": 2008, "month": 9, "date": 8, "hours": 23, "minutes": 33, "seconds": 9, "utc": true}, {"year": 2008, "month": 9, "date": 9, "hours": 11, "minutes": 24, "seconds": 47, "utc": true}]}},
        "y": {"field": "p", "type": "quantitative", "title": null, "scale": {"domain": [187.798, 190.902], "nice": false, "zero": false, "padding": 0}},
        "text": {"field": "s"}
      }
    }
  ]
}
